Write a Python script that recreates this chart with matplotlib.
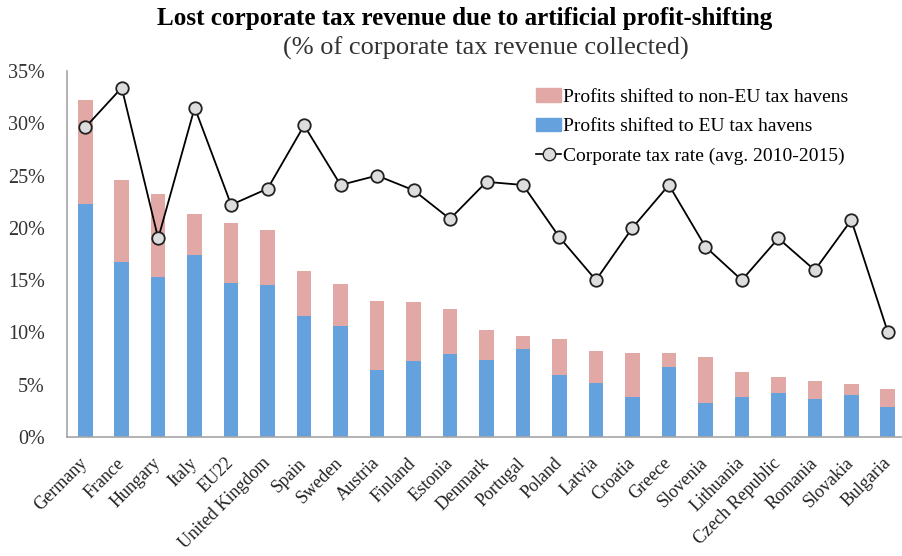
import matplotlib
matplotlib.use("Agg")
import matplotlib.pyplot as plt
from matplotlib.ticker import FuncFormatter
from matplotlib.lines import Line2D
from matplotlib.patches import Patch

countries = ["Germany", "France", "Hungary", "Italy", "EU22", "United Kingdom", "Spain",
             "Sweden", "Austria", "Finland", "Estonia", "Denmark", "Portugal", "Poland",
             "Latvia", "Croatia", "Greece", "Slovenia", "Lithuania", "Czech Republic",
             "Romania", "Slovakia", "Bulgaria"]
eu_havens = [22.3, 16.7, 15.3, 17.4, 14.7, 14.5, 11.6, 10.6, 6.45, 7.3, 7.9, 7.4, 8.4,
             5.9, 5.15, 3.85, 6.7, 3.25, 3.85, 4.2, 3.6, 4.05, 2.9]
total_shift = [32.25, 24.6, 23.2, 21.3, 20.5, 19.8, 15.9, 14.65, 13.0, 12.9, 12.2, 10.25,
               9.7, 9.4, 8.25, 8.0, 8.0, 7.65, 6.2, 5.75, 5.4, 5.05, 4.55]
tax_rate = [29.6, 33.4, 19.0, 31.5, 22.2, 23.75, 29.8, 24.1, 25.0, 23.6, 20.85, 24.4, 24.1,
            19.1, 15.0, 20.0, 24.1, 18.2, 15.0, 19.0, 15.95, 20.75, 10.05]
non_eu_havens = [t - e for t, e in zip(total_shift, eu_havens)]

serif = ["Liberation Serif", "DejaVu Serif"]
plt.rcParams["font.family"] = serif

fig = plt.figure(figsize=(9.03, 5.56), dpi=100)
ax = fig.add_axes([67 / 903, 119 / 556, 839 / 903, 366 / 556])

x = list(range(len(countries)))
blue = "#65A1DC"
pink = "#E2A8A6"
ax.bar(x, eu_havens, width=0.40, color=blue, zorder=2)
ax.bar(x, non_eu_havens, bottom=eu_havens, width=0.40, color=pink, zorder=2)
ax.plot(x, tax_rate, color="black", lw=1.3, marker="o", markersize=9,
        markerfacecolor="#DDDDDD", markeredgecolor="#222222", markeredgewidth=1.3, zorder=3)

ax.set_xlim(-0.5, len(countries) - 0.5)
ax.set_ylim(0, 35)
ax.set_yticks(range(0, 36, 5))
ax.yaxis.set_major_formatter(FuncFormatter(lambda v, p: f"{int(v)}%"))
ax.tick_params(axis="y", length=0, labelsize=14.5, pad=16, colors="#333333")
ax.tick_params(axis="x", length=0, pad=17)
ax.set_xticks(x)
ax.set_xticklabels(countries, rotation=45, ha="right", va="center", rotation_mode="anchor",
                   fontsize=13, color="#222222")
for s in ["top", "right"]:
    ax.spines[s].set_visible(False)
for s in ["left", "bottom"]:
    ax.spines[s].set_color("#A6A6A6")
    ax.spines[s].set_linewidth(1.2)

handles = [Patch(color=pink), Patch(color=blue),
           Line2D([], [], color="black", lw=1.2, marker="o", markersize=9,
                  markerfacecolor="#DDDDDD", markeredgecolor="#222222")]
labels = ["Profits shifted to non-EU tax havens", "Profits shifted to EU tax havens",
          "Corporate tax rate (avg. 2010-2015)"]
ax.legend(handles, labels, loc="upper left", bbox_to_anchor=(536 / 903, 1 - 88 / 556),
          bbox_transform=fig.transFigure, frameon=False, fontsize=14,
          handlelength=1.3, handletextpad=0.08, labelspacing=0.62, borderpad=0,
          borderaxespad=0)

fig.text(465 / 903, 1 - 18 / 556, "Lost corporate tax revenue due to artificial profit-shifting",
         ha="center", va="center", fontsize=18.1, fontweight="bold", color="#000000")
fig.text(486 / 903, 1 - 48 / 556, "(% of corporate tax revenue collected)",
         ha="center", va="center", fontsize=19, color="#333333")

fig.savefig("out.png", dpi=100)
